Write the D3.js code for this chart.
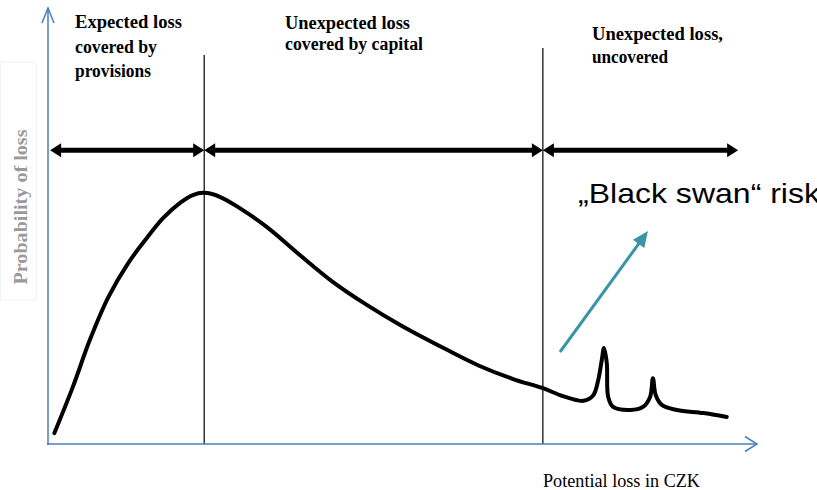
<!DOCTYPE html>
<html>
<head>
<meta charset="utf-8">
<script src="https://cdn.jsdelivr.net/npm/d3@7"></script>
<style>
  html, body { margin: 0; padding: 0; background: #fff; overflow: hidden; }
  svg { display: block; }
</style>
</head>
<body>
<svg id="chart" width="817" height="490"></svg>
<script>
// ---- data (x: potential loss, y: probability of loss, both in 0..100 units) ----
const lossX = [0.9, 3.5, 5.9, 8.5, 11.3, 13.9, 16.2, 18.6, 20.4, 22.0, 24.2, 27.0, 30.8, 35.5, 40.1, 44.9, 49.6, 56.2, 60.8, 65.5, 69.7, 72.5, 75.4, 76.8, 77.5, 78.0, 78.3, 78.7, 78.9, 79.6, 82.0, 83.8, 84.8, 85.2, 85.6, 86.5, 88.6, 92.3, 95.6];
const probY = [2.5, 13.1, 23.9, 33.7, 41.5, 47.2, 51.8, 55.3, 57.1, 57.6, 56.7, 54.1, 49.8, 43.3, 37.2, 31.9, 27.3, 21.6, 17.9, 14.9, 12.8, 11.0, 9.9, 11.2, 14.7, 19.3, 22.0, 18.6, 10.8, 8.5, 7.8, 8.5, 10.8, 15.1, 11.2, 8.9, 7.8, 7.1, 6.2];

const boundaries = [22.0, 69.7];
const zoneStarts = [0.3, 22.0, 69.7];
const zoneEnds = [22.0, 69.7, 97.2];
const zoneLabels = [
  ["Expected loss", "covered by", "provisions"],
  ["Unexpected loss", "covered by capital"],
  ["Unexpected loss,", "uncovered"]
];
const yAxisTitle = "Probability of loss";
const xAxisTitle = "Potential loss in CZK";
const annotation = "\u201EBlack swan\u201C risk";

// ---- layout ----
const svg = d3.select("#chart");
const x = d3.scaleLinear().domain([0, 100]).range([48, 758]);
const y = d3.scaleLinear().domain([0, 100]).range([444, 8]);
const axisColor = "#4a7ebb";

// faint frame around y title
svg.append("rect").attr("x", 0.5).attr("y", 62).attr("width", 36).attr("height", 238)
  .attr("fill", "none").attr("stroke", "#f2f2f2").attr("stroke-width", 1);

// y-axis title
svg.append("text")
  .attr("transform", "translate(27,207) rotate(-90)")
  .attr("text-anchor", "middle")
  .attr("font-family", "Liberation Serif, Times New Roman, serif")
  .attr("font-size", 18).attr("font-weight", "bold")
  .attr("fill", "#9a9a9a")
  .attr("textLength", 155).attr("lengthAdjust", "spacingAndGlyphs")
  .text(yAxisTitle);

// boundary lines
const boundaryTops = [55, 48];
svg.selectAll("line.bound").data(boundaries).join("line")
  .attr("class", "bound")
  .attr("x1", d => x(d)).attr("x2", d => x(d))
  .attr("y1", (d, i) => boundaryTops[i]).attr("y2", y(0))
  .attr("stroke", "#000").attr("stroke-width", 1.2);

// axes
svg.append("line").attr("x1", x(0)).attr("x2", x(0)).attr("y1", y(0) + 1).attr("y2", y(100))
  .attr("stroke", axisColor).attr("stroke-width", 1.5);
svg.append("path").attr("d", `M${x(0) - 6},${y(100) + 15} L${x(0)},${y(100)} L${x(0) + 6},${y(100) + 15}`)
  .attr("fill", "none").attr("stroke", axisColor).attr("stroke-width", 1.5);
svg.append("line").attr("x1", x(0) - 1).attr("x2", x(100) - 1).attr("y1", y(0)).attr("y2", y(0))
  .attr("stroke", axisColor).attr("stroke-width", 1.5);
svg.append("path").attr("d", `M${x(100) - 13},${y(0) - 7.5} L${x(100) - 1},${y(0)} L${x(100) - 13},${y(0) + 7.5}`)
  .attr("fill", "none").attr("stroke", axisColor).attr("stroke-width", 1.5);

// zone double arrows
const arrowY = 67.4;
const ay = y(arrowY);
const headL = 11, headW = 7;
zoneStarts.forEach((s, i) => {
  const x1 = x(s), x2 = x(zoneEnds[i]);
  svg.append("line").attr("x1", x1 + headL - 1).attr("x2", x2 - headL + 1)
    .attr("y1", ay).attr("y2", ay).attr("stroke", "#000").attr("stroke-width", 5);
  svg.append("path").attr("d", `M${x1},${ay} L${x1 + headL},${ay - headW} L${x1 + headL},${ay + headW} Z`).attr("fill", "#000");
  svg.append("path").attr("d", `M${x2},${ay} L${x2 - headL},${ay - headW} L${x2 - headL},${ay + headW} Z`).attr("fill", "#000");
});

// zone labels
const labelPos = [
  { x: 75, y: [28, 53, 77], w: [107, 82, 76] },
  { x: 285, y: [29, 50], w: [125, 138] },
  { x: 592, y: [40, 63], w: [131, 76] }
];
zoneLabels.forEach((lines, i) => {
  lines.forEach((t, j) => {
    svg.append("text")
      .attr("x", labelPos[i].x).attr("y", labelPos[i].y[j])
      .attr("font-family", "Liberation Serif, Times New Roman, serif")
      .attr("font-size", 18).attr("font-weight", "bold").attr("fill", "#000")
      .attr("textLength", labelPos[i].w[j]).attr("lengthAdjust", "spacingAndGlyphs")
      .text(t);
  });
});

// loss distribution curve
const pts = lossX.map((v, i) => [v, probY[i]]);
const line = d3.line().x(d => x(d[0])).y(d => y(d[1])).curve(d3.curveCatmullRom.alpha(0.5));
svg.append("path").attr("d", line(pts))
  .attr("fill", "none").attr("stroke", "#000").attr("stroke-width", 4)
  .attr("stroke-linecap", "round").attr("stroke-linejoin", "round");

// black swan annotation arrow
const teal = "#3a94a7";
const ax1 = 560, ay1 = 352, ax2 = 648, ay2 = 231;
const ang = Math.atan2(ay2 - ay1, ax2 - ax1);
const hl = 16, hw = 7;
const bx = ax2 - hl * Math.cos(ang), by = ay2 - hl * Math.sin(ang);
svg.append("line").attr("x1", ax1).attr("y1", ay1).attr("x2", bx + 2 * Math.cos(ang)).attr("y2", by + 2 * Math.sin(ang))
  .attr("stroke", teal).attr("stroke-width", 3);
svg.append("path").attr("d",
  `M${ax2},${ay2} L${bx - hw * Math.sin(ang)},${by + hw * Math.cos(ang)} L${bx + hw * Math.sin(ang)},${by - hw * Math.cos(ang)} Z`)
  .attr("fill", teal);

svg.append("text").attr("x", 578).attr("y", 203)
  .attr("font-family", "Liberation Sans, Arial, sans-serif")
  .attr("font-size", 28).attr("fill", "#000")
  .attr("textLength", 242).attr("lengthAdjust", "spacingAndGlyphs")
  .text(annotation);

// x-axis title
svg.append("text").attr("x", 543).attr("y", 487)
  .attr("font-family", "Liberation Serif, Times New Roman, serif")
  .attr("font-size", 18).attr("fill", "#000")
  .attr("textLength", 157).attr("lengthAdjust", "spacingAndGlyphs")
  .text(xAxisTitle);
</script>
</body>
</html>
